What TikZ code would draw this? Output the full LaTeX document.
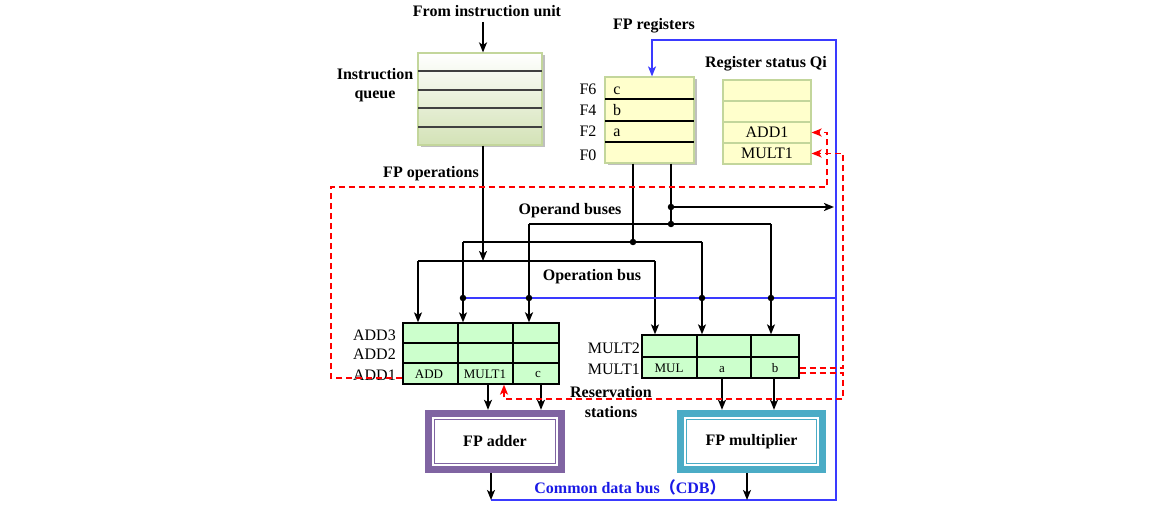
\documentclass[tikz,border=0pt]{standalone}
\usepackage{fontspec}
\setmainfont{Liberation Serif}
\newfontfamily\cjk{Noto Sans CJK SC}
\usetikzlibrary{arrows.meta,shadows}
\definecolor{regfill}{HTML}{FFFFCC}
\definecolor{regedge}{HTML}{C3D69B}
\definecolor{rsfill}{HTML}{CCFFCC}
\definecolor{qbot}{HTML}{D3E2B6}
\definecolor{addcol}{HTML}{8064A2}
\definecolor{mulcol}{HTML}{4BACC6}
\definecolor{cdbline}{HTML}{3A3AFF}
\definecolor{cdbtext}{HTML}{1A1AE6}
\definecolor{qline}{HTML}{404040}
\tikzset{
  lbl/.style={font=\fontsize{16}{19}\selectfont\bfseries, inner sep=0pt},
  txt/.style={font=\fontsize{16}{19}\selectfont, inner sep=0pt},
  cell/.style={font=\fontsize{13}{15}\selectfont, inner sep=0pt},
  bus/.style={line width=1.5pt, black},
  arr/.style={bus, -{Stealth[length=10pt,width=8pt,inset=2.5pt]}},
  dotn/.style={circle, fill=black, inner sep=0pt, minimum size=6.5pt},
  cdb/.style={line width=1.4pt, cdbline},
  rd/.style={line width=1.6pt, red, dash pattern=on 6pt off 4pt, -{Stealth[length=10pt,width=8pt,inset=2.5pt]}},
  shad/.style={drop shadow={shadow xshift=2.5pt, shadow yshift=-2.5pt, fill=black, opacity=0.25}},
  qcell/.style={draw=regedge, line width=1.2pt, fill=regfill, minimum width=88pt, minimum height=21pt, inner sep=0pt, font=\fontsize{16}{19}\selectfont}
}
\begin{document}
\begin{tikzpicture}[x=1pt,y=-1pt]
\useasboundingbox (0,0) rectangle (1173,510);
\fill[white] (0,0) rectangle (1173,510);

% ---------- instruction queue ----------
\node[lbl] (fiu) at (487,11) {From instruction unit};
\node[shad, draw=regedge, line width=1.2pt, top color=white, bottom color=qbot, minimum width=124pt, minimum height=92pt, inner sep=0pt] (iq) at (480,99) {};
\foreach \yy in {71,90,108,127} \draw[qline, line width=1.4pt] (418,\yy) -- (542,\yy);
\node[lbl, align=center] (iql) at (375,85) {Instruction\\queue};
\coordinate (qin) at (483,22);
\draw[arr] (qin) -- (qin |- iq.north);

% ---------- FP registers ----------
\node[lbl] (fpr) at (654,26) {FP registers};
\node[shad, draw=regedge, line width=1.2pt, fill=regfill, minimum width=89pt, minimum height=86pt, inner sep=0pt] (reg) at (649.5,120) {};
\foreach \yy in {99,121,142} \draw[black, line width=1.2pt] (605,\yy) -- (694,\yy);
\node[txt] (f6) at (588,89) {F6};
\node[txt] (f4) at (588,110) {F4};
\node[txt] (f2) at (588,131) {F2};
\node[txt] (f0) at (588,155) {F0};
\node[txt] (vc) at (617,91) {c};
\node[txt] (vb) at (617,110) {b};
\node[txt] (va) at (617,133) {a};

% ---------- register status ----------
\node[lbl] (rsq) at (766,64) {Register status Qi};
\node[qcell] (q1) at (767,90.5) {};
\node[qcell] (q2) at (767,111.5) {};
\node[qcell] (qadd) at (767,132.5) {ADD1};
\node[qcell] (qmul) at (767,153.5) {MULT1};

% ---------- reservation stations ----------
\node[draw=black, line width=1.3pt, fill=rsfill, minimum width=156pt, minimum height=61pt, inner sep=0pt] (addrs) at (481,353.5) {};
\draw[line width=1.3pt] (403,343) -- (559,343) (403,363) -- (559,363) (458,323) -- (458,384) (513,323) -- (513,384);
\node[txt, anchor=east] (a3) at (396,335) {ADD3};
\node[txt, anchor=east] (a2) at (396,354) {ADD2};
\node[txt, anchor=east] (a1) at (396,375) {ADD1};
\node[cell] (ca) at (429,374) {ADD};
\node[cell] (cb) at (485,374) {MULT1};
\node[cell] (cc) at (538,375) {c};

\node[draw=black, line width=1.3pt, fill=rsfill, minimum width=157pt, minimum height=43pt, inner sep=0pt] (mulrs) at (720.5,356.5) {};
\draw[line width=1.3pt] (642,357) -- (799,357) (697,335) -- (697,378) (751,335) -- (751,378);
\node[txt, anchor=east] (m2) at (640,348) {MULT2};
\node[txt, anchor=east] (m1) at (640,369) {MULT1};
\node[cell] (cm) at (669,368) {MUL};
\node[cell] (cma) at (722,370) {a};
\node[cell] (cmb) at (775,368) {b};

\node[lbl] (rs1) at (611,392) {Reservation};
\node[lbl] (rs2) at (611,412) {stations};

% ---------- functional units ----------
\node[fill=addcol, minimum width=140pt, minimum height=63pt, inner sep=0pt] (adder) at (495,441.5) {};
\node[fill=white, minimum width=126pt, minimum height=49pt, inner sep=0pt] (adderw) at (adder) {};
\node[draw=addcol, line width=1.3pt, minimum width=121pt, minimum height=44pt, inner sep=0pt, lbl] (adderl) at (adder) {FP adder};

\node[fill=mulcol, minimum width=149pt, minimum height=63pt, inner sep=0pt] (mult) at (751.5,441.5) {};
\node[fill=white, minimum width=135pt, minimum height=49pt, inner sep=0pt] (multw) at (mult) {};
\node[draw=mulcol, line width=1.3pt, minimum width=130pt, minimum height=44pt, inner sep=0pt, lbl] (multl) at (mult) {FP multiplier};

% ---------- labels ----------
\node[lbl] (fpo) at (431,174) {FP operations};
\node[lbl] (opb) at (570,211) {Operand buses};
\node[lbl] (opn) at (592,277) {Operation bus};
\node[lbl, text=cdbtext] (cdbl) at (630,487) {Common data bus{\cjk （}CDB{\cjk ）}};

% ---------- operation bus ----------
\coordinate (obA) at (418,261);
\coordinate (obB) at (483,261);
\coordinate (obC) at (655,261);
\draw[arr] (iq.south -| obB) -- (obB);
\draw[bus] (obA) -- (obC);
\draw[arr] (obA) -- (obA |- addrs.north);
\draw[arr] (obC) -- (obC |- mulrs.north);

% ---------- operand buses ----------
\coordinate (o1) at (633,242);
\coordinate (o1L) at (463,242);
\coordinate (o1R) at (702,242);
\draw[bus] (o1 |- reg.south) -- (o1);
\draw[bus] (o1L) -- (o1R);
\draw[arr] (o1L) -- (o1L |- addrs.north);
\draw[arr] (o1R) -- (o1R |- mulrs.north);

\coordinate (o2) at (671,224);
\coordinate (o2t) at (671,207);
\coordinate (o2L) at (529,224);
\coordinate (o2R) at (771,224);
\coordinate (o2e) at (834,207);
\draw[bus] (o2 |- reg.south) -- (o2);
\draw[arr, line width=2.2pt] (o2t) -- (o2e);
\draw[bus] (o2L) -- (o2R);
\draw[arr, line width=2.2pt] (o2L) -- (o2L |- addrs.north);
\draw[arr] (o2R) -- (o2R |- mulrs.north);

% ---------- CDB ----------
\coordinate (cb1) at (463,298);
\coordinate (cb2) at (836,298);
\draw[cdb] (cb1) -- (cb2);
\coordinate (cdbA) at (491,500);
\coordinate (cdbM) at (747,500);
\coordinate (cdbB) at (836,500);
\coordinate (cdbC) at (836,40);
\coordinate (cdbD) at (652,40);
\draw[cdb, -{Stealth[length=10pt,width=8pt,inset=2.5pt]}] (cdbA) -- (cdbB) -- (cdbC) -- (cdbD) -- (cdbD |- reg.north);

% outputs into units and CDB
\coordinate (ad1) at (488,384);
\coordinate (ad2) at (541,384);
\coordinate (mu1) at (722,378);
\coordinate (mu2) at (774,378);
\draw[arr] (ad1) -- (ad1 |- adder.north);
\draw[arr] (ad2) -- (ad2 |- adder.north);
\draw[arr] (mu1) -- (mu1 |- mult.north);
\draw[arr] (mu2) -- (mu2 |- mult.north);
\draw[arr] (adder.south -| cdbA) -- (cdbA);
\draw[arr] (mult.south -| cdbM) -- (cdbM);

% dots
\node[dotn] (d1) at (o1) {};
\node[dotn] (d2) at (o2) {};
\node[dotn] (d3) at (o2t) {};
\node[dotn] (d4) at (o1L |- cb1) {};
\node[dotn] (d5) at (o2L |- cb1) {};
\node[dotn] (d6) at (o1R |- cb1) {};
\node[dotn] (d7) at (o2R |- cb1) {};

% ---------- red dashed tag paths ----------
\coordinate (ra1) at (331,378);
\coordinate (ra2) at (331,187);
\coordinate (ra3) at (827,187);
\draw[rd] (addrs.west |- ra1) -- (ra1) -- (ra2) -- (ra3) -- (ra3 |- qadd.east) -- (qadd.east);
\coordinate (rb1) at (843,368);
\draw[rd] (mulrs.east |- rb1) -- (rb1) -- (rb1 |- qmul.east) -- (qmul.east);
\coordinate (rc1) at (843,373);
\coordinate (rc2) at (843,399);
\coordinate (rc3) at (504,399);
\draw[rd] (mulrs.east |- rc1) -- (rc1) -- (rc2) -- (rc3) -- (rc3 |- addrs.south);
\end{tikzpicture}
\end{document}
